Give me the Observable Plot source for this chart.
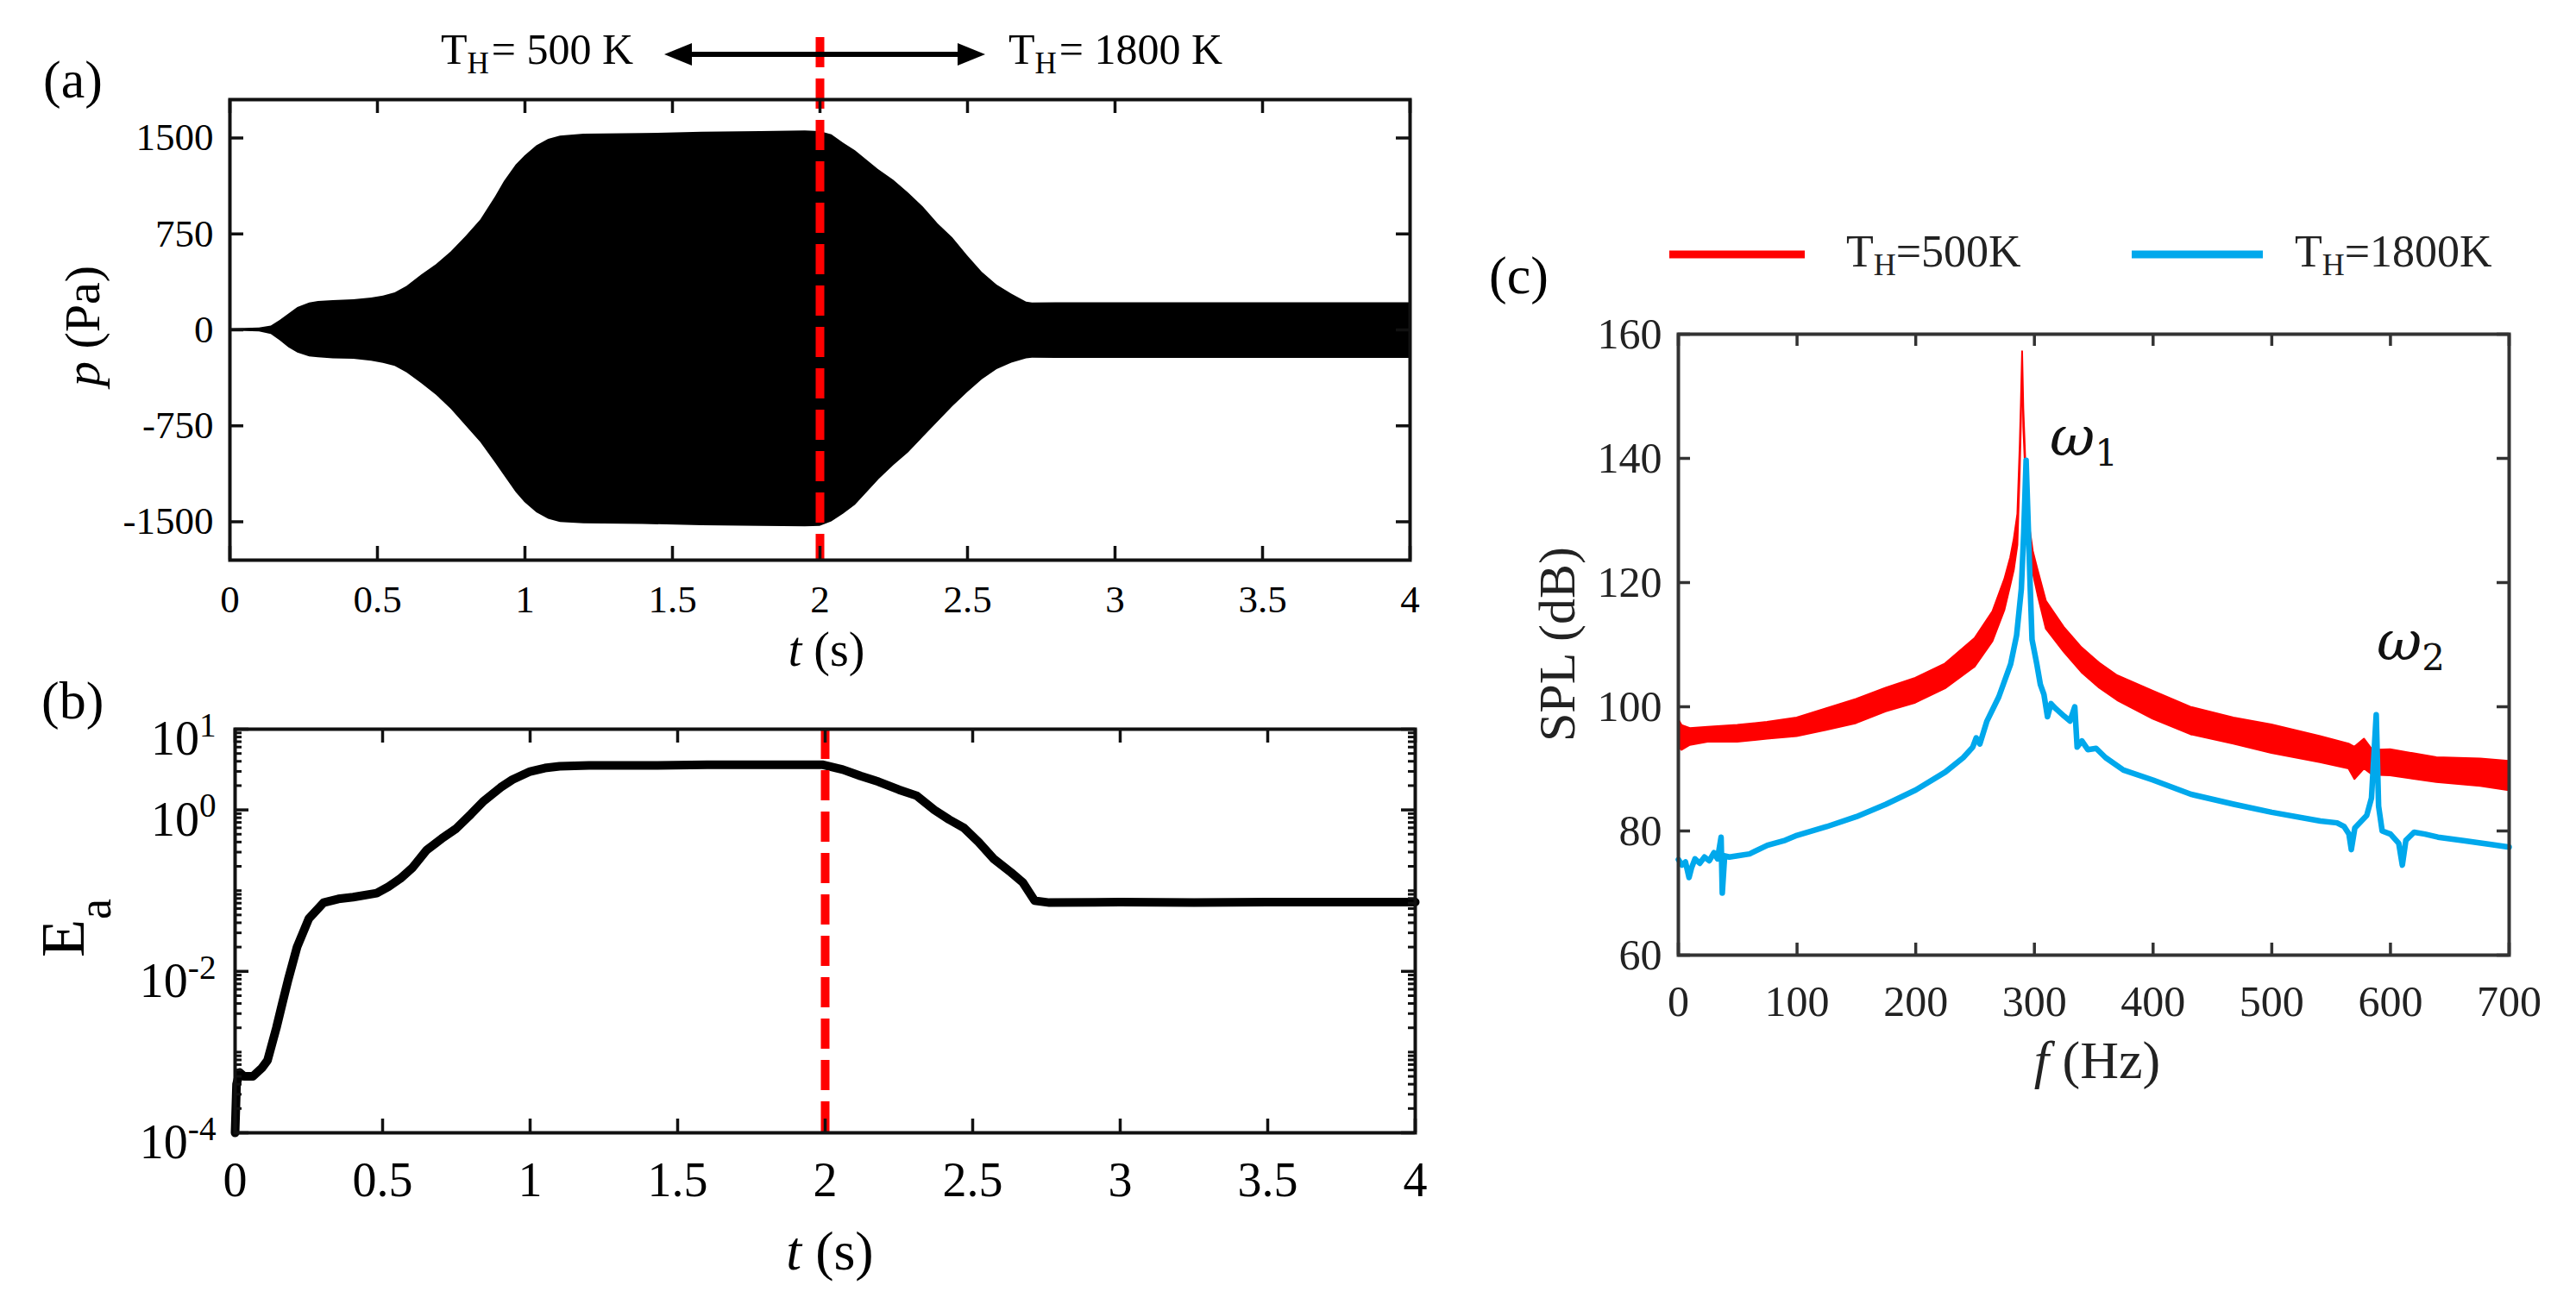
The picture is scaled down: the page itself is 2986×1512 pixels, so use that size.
<!DOCTYPE html>
<html>
<head>
<meta charset="utf-8">
<script src="https://cdn.jsdelivr.net/npm/d3@7"></script>
<script src="https://cdn.jsdelivr.net/npm/@observablehq/plot@0.6"></script>
<style>
  body { margin: 0; background: #fff; }
  #fig { position: relative; width: 2986px; height: 1512px; background: #fff; overflow: hidden;
         font-family: "Liberation Serif", "Times New Roman", serif; }
  #pa { position: absolute; left: 0; top: 0; width: 1700px; height: 800px; }
  #pb { position: absolute; left: 0; top: 780px; width: 1700px; height: 732px; }
  #pc { position: absolute; left: 1700px; top: 200px; width: 1286px; height: 1100px; }
  #overlay { position: absolute; left: 0; top: 0; pointer-events: none; }
</style>
</head>
<body>
<div id="fig">
  <div id="pa"></div>
  <div id="pb"></div>
  <div id="pc"></div>
  <svg id="overlay" width="2986" height="1512" font-family="Liberation Serif, Times New Roman, serif">
    <!-- panel letters -->
    <text x="50" y="113" font-size="62">(a)</text>
    <text x="48" y="833" font-size="62">(b)</text>
    <text x="1726" y="340" font-size="62">(c)</text>
    <!-- regime annotation above (a) -->
    <text x="511" y="74" font-size="50">T<tspan font-size="35" dy="11">H</tspan><tspan dy="-11" dx="3">= 500 K</tspan></text>
    <text x="1169" y="74" font-size="50">T<tspan font-size="35" dy="11">H</tspan><tspan dy="-11" dx="3">= 1800 K</tspan></text>
    <line x1="796" y1="63" x2="1116" y2="63" stroke="#000" stroke-width="6"/>
    <polygon points="770,63 802,50 802,76" fill="#000"/>
    <polygon points="1142,63 1110,50 1110,76" fill="#000"/>
    <!-- axis titles (a) and (b) -->
    <text x="958" y="772" font-size="56" text-anchor="middle"><tspan font-style="italic">t</tspan> (s)</text>
    <text transform="translate(115,378) rotate(-90)" font-size="58" text-anchor="middle"><tspan font-style="italic">p</tspan> (Pa)</text>
    <text x="962" y="1472" font-size="64" text-anchor="middle"><tspan font-style="italic">t</tspan> (s)</text>
    <text transform="translate(97,1076) rotate(-90)" font-size="72" text-anchor="middle">E<tspan font-size="54" dy="31">a</tspan></text>
    <!-- legend and titles (c) -->
    <line x1="1935" y1="295" x2="2092" y2="295" stroke="#ff0000" stroke-width="9"/>
    <text x="2140" y="309" font-size="52" fill="#222">T<tspan font-size="36" dy="10">H</tspan><tspan dy="-10">=500K</tspan></text>
    <line x1="2471" y1="295" x2="2623" y2="295" stroke="#00a8ec" stroke-width="9"/>
    <text x="2660" y="309" font-size="52" fill="#222">T<tspan font-size="36" dy="10">H</tspan><tspan dy="-10">=1800K</tspan></text>
    <text transform="translate(1825,747) rotate(-90)" font-size="60" text-anchor="middle" fill="#222">SPL (dB)</text>
    <text x="2431" y="1250" font-size="62" text-anchor="middle" fill="#222"><tspan font-style="italic">f</tspan> (Hz)</text>
    <text x="2376" y="528" font-size="64" font-family="DejaVu Serif" font-style="italic" fill="#111">ω<tspan font-style="normal" font-size="42" dy="12">1</tspan></text>
    <text x="2755" y="765" font-size="64" font-family="DejaVu Serif" font-style="italic" fill="#111">ω<tspan font-style="normal" font-size="42" dy="12">2</tspan></text>
  </svg>
</div>
<script>
// (a) pressure envelope
const tA = [0, 0.05, 0.1, 0.14, 0.17, 0.2, 0.23, 0.27, 0.3, 0.35, 0.42, 0.48, 0.52, 0.56, 0.6, 0.65, 0.7, 0.75, 0.8, 0.85,
  0.9, 0.93, 0.97, 1.0, 1.04, 1.08, 1.12, 1.2, 1.4, 1.6, 1.8, 1.95, 2.0, 2.04, 2.08, 2.12, 2.2, 2.25, 2.3, 2.35,
  2.4, 2.45, 2.5, 2.55, 2.6, 2.65, 2.7, 2.72, 2.8, 3.0, 3.5, 4.0];
const pUpper = [10, 12, 15, 30, 75, 125, 175, 210, 222, 230, 236, 250, 265, 290, 340, 430, 510, 610, 730, 860,
  1040, 1160, 1290, 1360, 1440, 1490, 1515, 1530, 1535, 1545, 1550, 1555, 1550, 1525, 1460, 1400, 1250, 1170, 1070, 960,
  830, 720, 580, 450, 350, 280, 218, 210, 212, 212, 212, 212];
const pLower = [-10, -12, -15, -35, -85, -140, -180, -210, -218, -225, -230, -245, -262, -285, -335, -420, -510, -620, -750, -880,
  -1040, -1140, -1270, -1350, -1430, -1480, -1505, -1515, -1520, -1530, -1535, -1538, -1535, -1500, -1440, -1370, -1170, -1060, -960, -840,
  -720, -600, -490, -390, -310, -260, -225, -220, -222, -222, -222, -222];

// (b) acoustic energy
const tB = [0, 0.005, 0.015, 0.03, 0.06, 0.09, 0.11, 0.14, 0.16, 0.18, 0.21, 0.25, 0.3, 0.35, 0.4, 0.48, 0.52, 0.56, 0.6, 0.65,
  0.7, 0.75, 0.8, 0.84, 0.9, 0.94, 1.0, 1.05, 1.1, 1.2, 1.4, 1.6, 1.8, 1.99, 2.06, 2.12, 2.18, 2.25, 2.31, 2.37,
  2.42, 2.47, 2.52, 2.57, 2.63, 2.67, 2.71, 2.76, 3.0, 3.25, 3.5, 3.75, 4.0];
const eB = [1e-4, 4.0e-4, 5.6e-4, 5.0e-4, 5.0e-4, 6.3e-4, 7.9e-4, 2.0e-3, 4.0e-3, 7.9e-3, 0.02, 0.045, 0.071, 0.079, 0.083, 0.093, 0.112, 0.141, 0.19, 0.32,
  0.44, 0.59, 0.89, 1.26, 1.9, 2.37, 2.99, 3.3, 3.47, 3.55, 3.55, 3.63, 3.63, 3.63, 3.16, 2.63, 2.24, 1.78, 1.5, 1.0,
  0.76, 0.6, 0.4, 0.25, 0.168, 0.126, 0.075, 0.071, 0.072, 0.071, 0.072, 0.072, 0.072];

// (c) spectra: red band (low/high of the ripple), blue line
const fRed = [0, 3, 10, 25, 50, 75, 100, 125, 150, 175, 200, 225, 250, 265, 275, 280, 283, 286, 288, 289,
  290, 291, 293, 296, 299, 303, 310, 325, 340, 355, 370, 400, 432, 468, 500, 541, 565, 570, 578, 585,
  600, 639, 676, 700];
const redLo = [93.5, 93, 93.8, 94.3, 94.3, 94.8, 95.2, 96.2, 97.3, 99.2, 100.6, 102.9, 106.4, 110.5, 115.5, 119.5, 122, 126, 138, 146,
  156.5, 145, 136, 126, 121.5, 118, 112.5, 108.8, 105.5, 103, 101, 98, 95.5, 94, 92.5, 91, 90, 88.3, 90, 89,
  88.9, 87.8, 87.2, 86.5];
const redHi = [98, 97, 96.5, 96.7, 97, 97.5, 98.2, 99.7, 101.2, 103, 104.6, 106.9, 111, 115.3, 120.5, 124, 127, 131, 142, 149,
  157.2, 148, 138, 129, 125, 122, 117, 112.8, 109.5, 107, 105, 102.5, 99.9, 98.2, 97.1, 95.2, 94, 93.5, 94.8, 93,
  93.1, 91.8, 91.6, 91.2];
const fBlue = [0, 3, 6, 9, 11, 14, 18, 22, 26, 30, 33, 36, 37, 39, 43, 50, 60, 75, 90, 100,
  125, 150, 175, 200, 225, 240, 248, 251, 254, 260, 270, 280, 285, 289, 291, 293, 295, 296.5, 298, 302,
  305, 308, 311, 314, 318, 325, 330, 334, 336, 340, 345, 352, 360, 375, 400, 432, 468, 500, 541, 555,
  561, 565, 567, 570, 575, 580, 584, 588, 590, 593, 600, 607, 610, 613, 620, 629, 640, 663, 685, 700];
const splBlue = [75.4, 74.5, 75, 72.5, 74, 75.5, 74.8, 75.8, 75.2, 76.5, 75.5, 79, 70, 76, 75.8, 76, 76.3, 77.7, 78.5, 79.3,
  80.7, 82.3, 84.3, 86.6, 89.5, 91.8, 93.5, 95, 94, 97.7, 101.6, 106.9, 111.5, 119, 128, 139.7, 128, 119, 110.8, 106.9,
  103.6, 102, 98.4, 100.5, 99.7, 98.5, 97.7, 100, 93.5, 94.5, 93.1, 93.3, 91.8, 89.8, 88.2, 85.9, 84.3, 83, 81.6, 81.3,
  80.7, 79.5, 77, 80.5, 81.5, 82.5, 85.3, 98.7, 84, 80, 79.5, 78, 74.5, 78.5, 79.8, 79.5, 79, 78.4, 77.8, 77.4];

const tTicks = [0, 0.5, 1, 1.5, 2, 2.5, 3, 3.5, 4];
const pTicks = [-1500, -750, 0, 750, 1500];
const eTicks = [1e-4, 1e-2, 1, 10];
const fTicks = [0, 100, 200, 300, 400, 500, 600, 700];
const splTicks = [60, 80, 100, 120, 140, 160];
const switchT = 2; // T_H switched from 500 K to 1800 K

const serif = "Liberation Serif, Times New Roman, serif";

// inward ticks on all four sides of the box
function boxTicks(xs, ys, fw, fh, len, stroke, sw) {
  return [
    Plot.ruleX(xs, {insetTop: fh - len, stroke, strokeWidth: sw}),
    Plot.ruleX(xs, {insetBottom: fh - len, stroke, strokeWidth: sw}),
    Plot.ruleY(ys, {insetRight: fw - len, stroke, strokeWidth: sw}),
    Plot.ruleY(ys, {insetLeft: fw - len, stroke, strokeWidth: sw})
  ];
}

// ---- (a)
const envA = tA.map((t, i) => ({t, lo: pLower[i], hi: pUpper[i]}));
const plotA = Plot.plot({
  width: 1700, height: 800,
  marginLeft: 266, marginRight: 66, marginTop: 115, marginBottom: 151,
  style: {fontFamily: serif, fontSize: "45px", color: "black", background: "transparent", overflow: "visible"},
  x: {domain: [0, 4]},
  y: {domain: [-1800, 1800]},
  marks: [
    Plot.areaY(envA, {x: "t", y1: "lo", y2: "hi", fill: "black"}),
    Plot.ruleX([switchT], {insetTop: -72, stroke: "#ff0000", strokeWidth: 10, strokeDasharray: "35,13"}),
    Plot.frame({stroke: "#111", strokeWidth: 4}),
    ...boxTicks(tTicks, pTicks, 1368, 534, 16, "#111", 3.5),
    Plot.axisX(tTicks, {tickSize: 0, tickPadding: 29, tickFormat: (d) => String(d), label: null}),
    Plot.axisY(pTicks, {tickSize: 0, tickPadding: 19, tickFormat: (d) => String(d), label: null})
  ]
});
document.querySelector("#pa").append(plotA);

// ---- (b)
const minorE = [];
for (const dec of [1e-4, 1e-3, 1e-2, 1e-1, 1]) {
  for (let k = 2; k <= 9; k++) minorE.push(k * dec);
}
minorE.push(1e-3, 1e-1);
const lineB = tB.map((t, i) => ({t, e: eB[i]}));
const plotB = Plot.plot({
  width: 1700, height: 732,
  marginLeft: 272, marginRight: 60, marginTop: 65, marginBottom: 199,
  style: {fontFamily: serif, fontSize: "56px", color: "black", background: "transparent", overflow: "visible"},
  x: {domain: [0, 4]},
  y: {type: "log", domain: [1e-4, 10]},
  marks: [
    Plot.line(lineB, {x: "t", y: "e", stroke: "black", strokeWidth: 10, strokeLinejoin: "round"}),
    Plot.ruleX([switchT], {stroke: "#ff0000", strokeWidth: 10, strokeDasharray: "35,13"}),
    Plot.frame({stroke: "#111", strokeWidth: 4}),
    ...boxTicks(tTicks, eTicks, 1368, 468, 16, "#111", 3.5),
    Plot.ruleY(minorE, {insetRight: 1368 - 8, stroke: "#111", strokeWidth: 3}),
    Plot.ruleY(minorE, {insetLeft: 1368 - 8, stroke: "#111", strokeWidth: 3}),
    Plot.axisX(tTicks, {tickSize: 0, tickPadding: 34, tickFormat: (d) => String(d), label: null}),
    Plot.axisY(eTicks, {tickSize: 0, tickPadding: 22, dy: 12, tickFormat: (d) => "10^" + Math.round(Math.log10(d)), label: null})
  ]
});
document.querySelector("#pb").append(plotB);
// superscript exponents
d3.select(plotB).selectAll("text").each(function () {
  const s = this.textContent;
  if (s.startsWith("10^")) {
    const ex = s.slice(3);
    const t = d3.select(this);
    t.text("10");
    t.append("tspan").attr("dy", "-0.55em").attr("font-size", "0.7em").text(ex);
  }
});

// ---- (c)
const bandRed = fRed.map((f, i) => ({f, lo: redLo[i], hi: redHi[i]}));
const lineBlue = fBlue.map((f, i) => ({f, spl: splBlue[i]}));
const plotC = Plot.plot({
  width: 1286, height: 1100,
  marginLeft: 245, marginRight: 78, marginTop: 187, marginBottom: 193,
  style: {fontFamily: serif, fontSize: "50px", color: "#222", background: "transparent", overflow: "visible"},
  x: {domain: [0, 700]},
  y: {domain: [60, 160]},
  marks: [
    Plot.areaY(bandRed, {x: "f", y1: "lo", y2: "hi", fill: "#ff0000", stroke: "#ff0000", strokeWidth: 2}),
    Plot.line(lineBlue, {x: "f", y: "spl", stroke: "#00a8ec", strokeWidth: 6.5, strokeLinejoin: "round"}),
    Plot.frame({stroke: "#333", strokeWidth: 4}),
    ...boxTicks(fTicks, splTicks, 963, 720, 14, "#333", 3.5),
    Plot.axisX(fTicks, {tickSize: 0, tickPadding: 35, tickFormat: (d) => String(d), label: null}),
    Plot.axisY(splTicks, {tickSize: 0, tickPadding: 19, tickFormat: (d) => String(d), label: null})
  ]
});
document.querySelector("#pc").append(plotC);
</script>
</body>
</html>
